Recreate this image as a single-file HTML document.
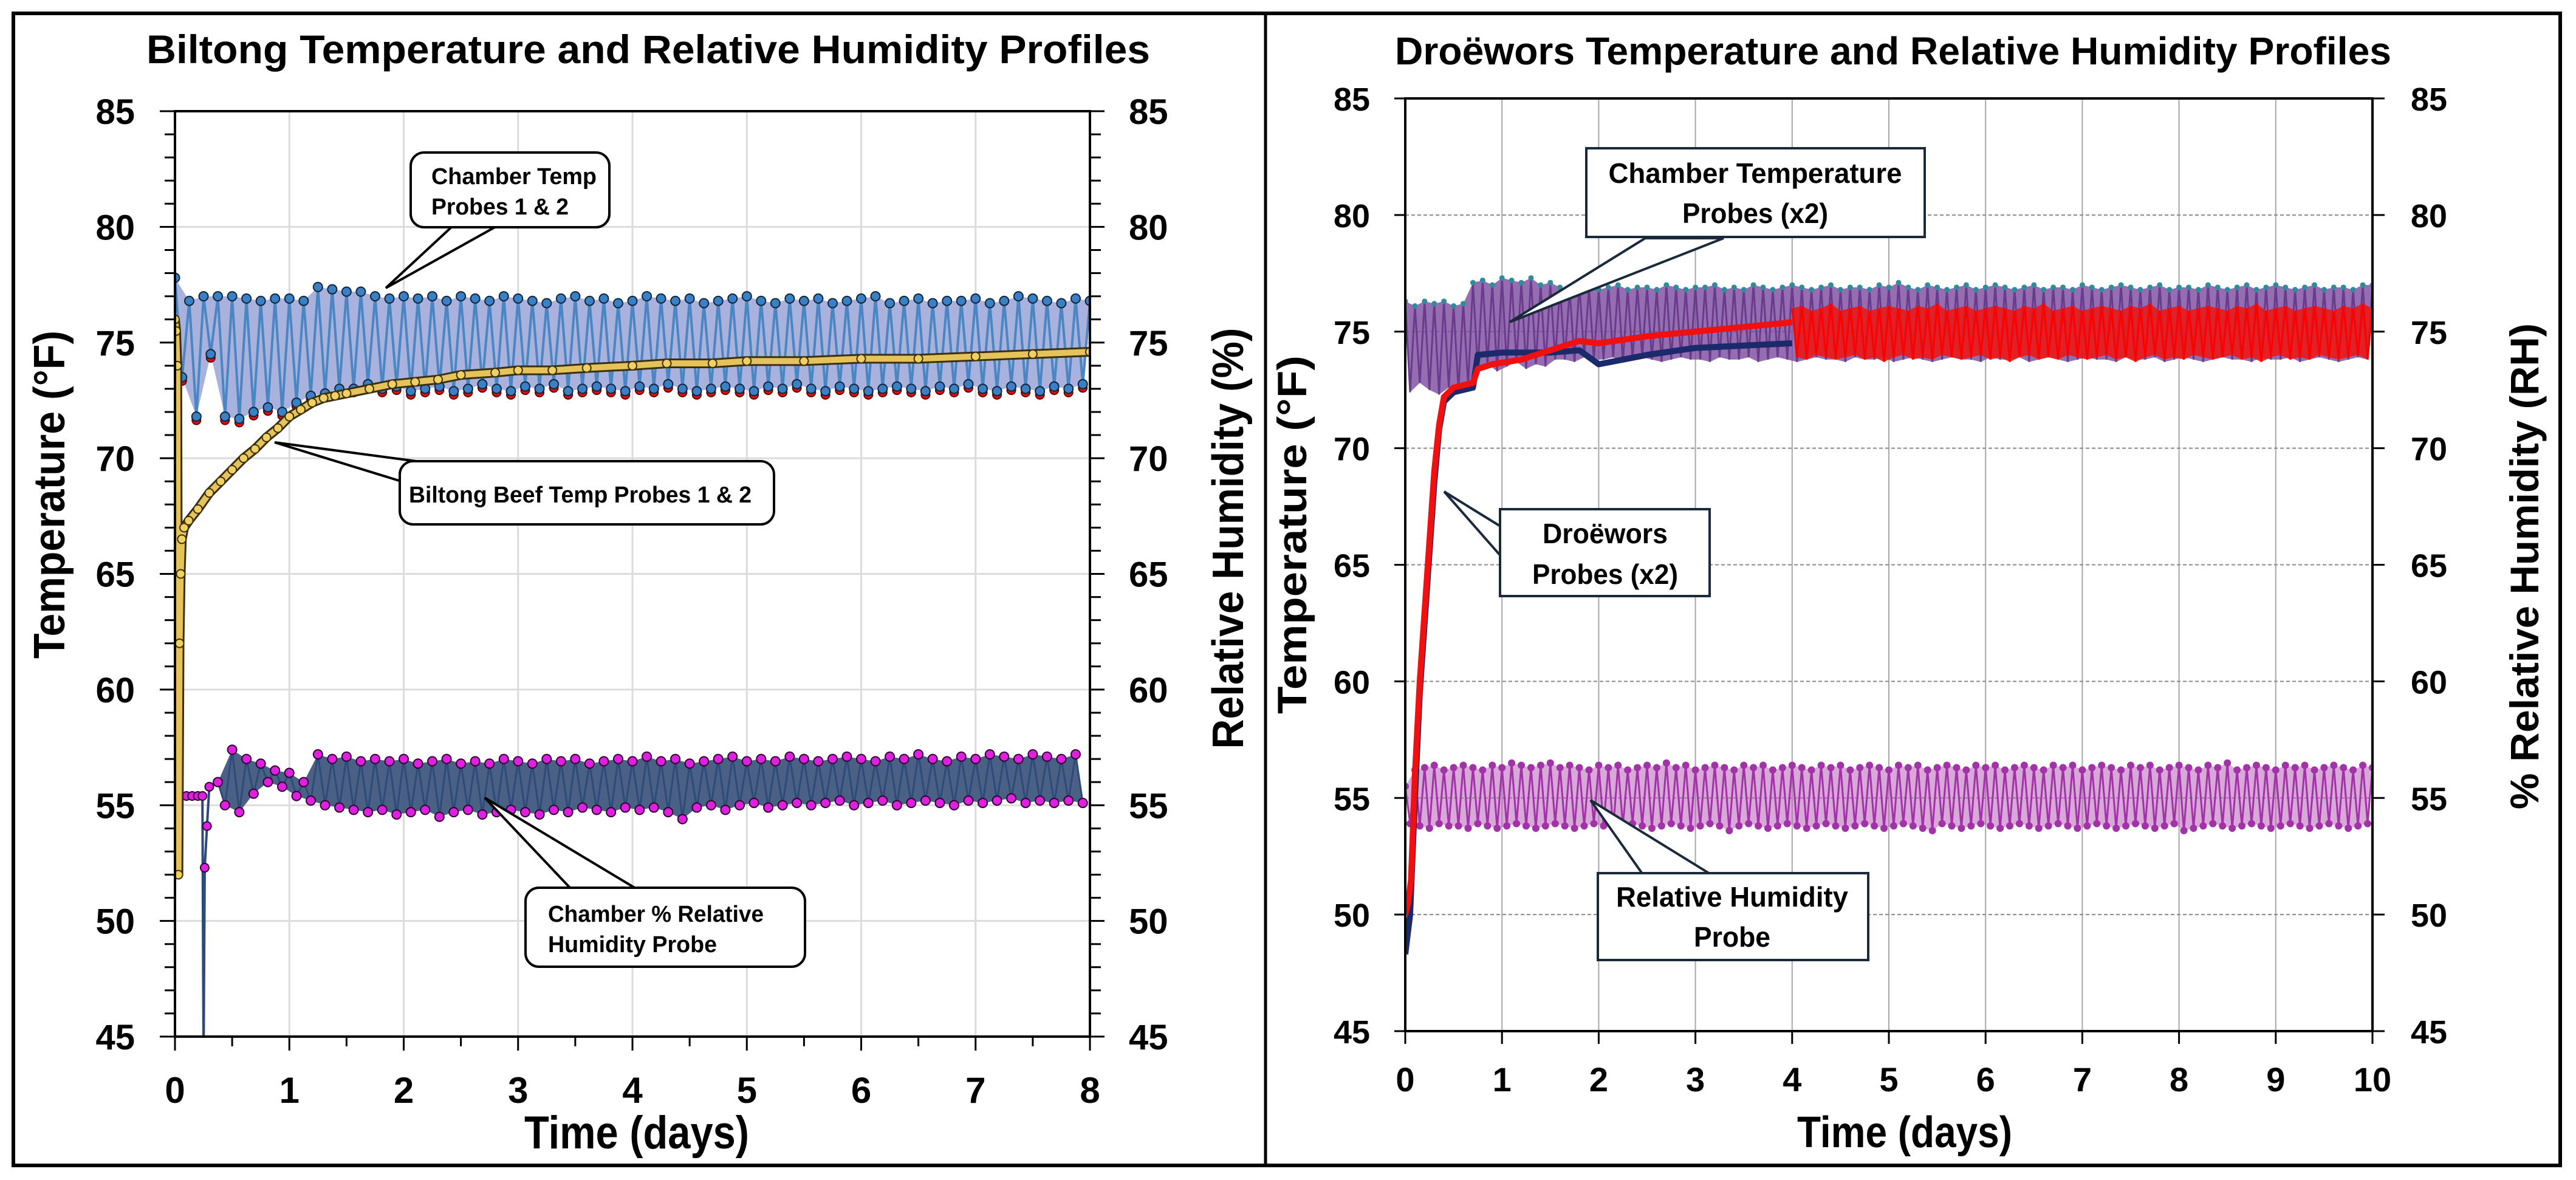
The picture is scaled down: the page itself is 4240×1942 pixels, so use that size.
<!DOCTYPE html>
<html><head><meta charset="utf-8">
<style>
html,body{margin:0;padding:0;background:#fff;}
svg{display:block;}
text{font-family:"Liberation Sans",sans-serif;font-weight:bold;fill:#000;}
</style></head>
<body>
<svg id="fig" width="4240" height="1942" viewBox="0 0 4240 1942" xmlns="http://www.w3.org/2000/svg">
<defs>
<clipPath id="clipL"><rect x="288" y="183" width="1506" height="1523"/></clipPath>
<clipPath id="clipR"><rect x="2313" y="162" width="1592" height="1535"/></clipPath>
</defs>
<rect x="0" y="0" width="4240" height="1942" fill="#fff"/>
<rect x="22" y="22" width="4192" height="1896" fill="none" stroke="#000" stroke-width="6"/>
<line x1="2083" y1="22" x2="2083" y2="1918" stroke="#000" stroke-width="5"/>
<g id="left"></g>
<g id="right"></g>
</svg>
<script>
// ---------- LEFT CHART DATA (Biltong) ----------
const leftXTicks = [0,1,2,3,4,5,6,7,8];
const leftYTicks = [45,50,55,60,65,70,75,80,85];
const chamberHiStart = 0, chamberLoStart = 0.0625, chamberStep = 0.125;
const chamberHi = [77.8,76.8,77.0,77.0,77.0,76.9,76.8,76.9,76.9,76.8,77.4,77.3,77.2,77.2,77.0,76.9,77.0,76.9,77.0,76.8,77.0,76.9,76.8,77.0,76.9,76.8,76.7,76.9,77.0,76.8,76.9,76.7,76.8,77.0,76.9,76.8,76.9,76.7,76.8,76.9,77.0,76.8,76.7,76.9,76.8,76.9,76.7,76.8,76.9,77.0,76.7,76.8,76.9,76.7,76.8,76.8,76.9,76.7,76.8,77.0,76.9,76.8,76.7,76.9,76.8];
const chamberLo = [73.5,71.8,74.5,71.8,71.7,72.0,72.2,72.0,72.4,72.7,72.8,73.0,73.0,73.2,73.0,73.1,72.9,73.0,73.1,72.9,73.0,73.2,73.0,72.9,73.1,73.0,73.2,72.9,73.0,73.1,73.0,72.9,73.1,73.0,73.2,73.0,72.9,73.0,73.1,73.0,72.9,73.1,73.0,73.2,73.0,72.9,73.1,73.0,72.9,73.0,73.1,73.0,72.9,73.1,73.0,73.2,73.0,72.9,73.1,73.0,72.9,73.1,73.0,73.2];
const beefT = [0,0.01,0.02,0.03,0.04,0.05,0.06,0.08,0.12,0.2,0.3,0.4,0.5,0.6,0.7,0.8,0.9,1.0,1.1,1.2,1.3,1.4,1.5,1.7,1.9,2.1,2.3,2.5,2.8,3.0,3.3,3.6,4.0,4.3,4.7,5.0,5.5,6.0,6.5,7.0,7.5,8.0];
const beefV = [76,75.5,74,52,62,65,66.5,67,67.3,67.8,68.5,69,69.5,70,70.4,70.9,71.3,71.8,72.1,72.4,72.6,72.7,72.8,73.0,73.2,73.3,73.4,73.6,73.7,73.8,73.8,73.9,74.0,74.1,74.1,74.2,74.2,74.3,74.3,74.4,74.5,74.6];
const rhStartT = [0,0.05,0.1,0.15,0.2,0.24,0.25,0.26,0.28,0.3];
const rhStartV = [55.4,55.4,55.4,55.4,55.4,55.4,44,52.3,54.1,55.8];
const rhHiStart = 0.375, rhLoStart = 0.4375, rhStep = 0.125;
const rhHi = [56.0,57.4,57.0,56.8,56.5,56.4,56.0,57.2,57.0,57.1,56.9,57.0,56.9,57.0,56.8,56.9,57.0,56.8,56.9,56.8,57.0,56.9,56.8,57.0,56.9,57.0,56.8,56.9,57.0,56.9,57.1,56.9,57.0,56.8,56.9,57.0,57.1,56.9,57.0,56.9,57.1,57.0,56.9,57.0,57.1,57.0,56.9,57.1,57.0,57.2,57.0,56.9,57.1,57.0,57.2,57.1,57.0,57.2,57.1,57.0,57.2];
const rhLo = [55.0,54.7,55.5,56.0,55.8,55.4,55.2,55.0,54.9,54.8,54.7,54.8,54.6,54.7,54.8,54.5,54.7,54.8,54.6,54.7,54.8,54.7,54.6,54.8,54.7,54.9,54.8,54.7,54.9,54.8,54.9,54.7,54.4,54.9,55.0,54.8,55.0,55.1,54.9,55.0,55.1,55.0,55.1,55.2,55.0,55.1,55.2,55.0,55.1,55.2,55.1,55.0,55.2,55.1,55.2,55.3,55.1,55.2,55.1,55.2,55.1];

// ---------- RIGHT CHART DATA (Droewors) ----------
const rightXTicks = [0,1,2,3,4,5,6,7,8,9,10];
const rightYTicks = [45,50,55,60,65,70,75,80,85];
const rcHiStart = 0, rcLoStart = 0.05, rcStep = 0.1;
const rcHi = [76.3,76.1,76.3,76.2,76.3,76.1,76.2,77.1,77.2,77.0,77.3,77.2,77.1,77.3,77.0,77.1,76.9,76.8,77.0,76.9,76.8,76.9,77.0,76.8,76.9,76.9,76.8,77.0,76.9,76.8,76.9,76.9,77.0,76.8,76.9,76.8,77.0,76.9,76.8,76.9,77.0,76.9,76.8,76.9,77.0,76.8,76.9,76.9,76.8,77.0,76.9,77.1,76.9,76.8,77.0,76.9,76.8,76.9,77.0,76.8,76.9,77.0,76.9,76.8,76.9,77.0,76.8,76.9,76.9,76.8,77.0,76.9,76.8,76.9,77.0,76.9,76.8,76.9,77.0,76.8,76.9,76.9,76.8,77.0,76.9,76.8,76.9,77.0,76.8,76.9,77.0,76.9,76.8,76.9,77.0,76.8,76.9,76.9,76.8,77.0,77.0];
const rcLo = [72.4,72.8,72.5,72.3,72.6,72.5,72.7,73.4,73.6,73.3,73.5,73.7,73.4,73.6,73.5,73.8,73.8,73.7,73.9,73.8,73.8,73.9,73.7,73.8,73.9,73.8,73.7,73.8,73.9,73.8,73.8,73.7,73.9,73.8,73.8,73.9,73.7,73.8,73.9,73.8,73.7,73.8,73.9,73.8,73.8,73.7,73.9,73.8,73.8,73.9,73.7,73.8,73.9,73.8,73.7,73.8,73.9,73.8,73.8,73.7,73.9,73.8,73.8,73.9,73.7,73.8,73.9,73.8,73.7,73.8,73.9,73.8,73.8,73.7,73.9,73.8,73.8,73.9,73.7,73.8,73.9,73.8,73.7,73.8,73.9,73.8,73.8,73.7,73.9,73.8,73.8,73.9,73.7,73.8,73.9,73.8,73.7,73.8,73.9,73.8];
const redT = [0,0.03,0.06,0.1,0.15,0.2,0.25,0.3,0.35,0.4,0.5,0.6,0.7,0.75,0.9,1.2,1.5,1.8,2.0,2.5,3.0,3.5,4.0];
const redV = [50,50.5,51.5,56,60,63,66,69,71,72.2,72.6,72.7,72.8,73.4,73.6,73.8,74.2,74.6,74.5,74.8,75.0,75.2,75.4];
const navyT = [0,0.05,0.1,0.15,0.2,0.25,0.3,0.35,0.4,0.5,0.7,0.75,1.0,1.5,1.8,2.0,2.5,3.0,3.5,4.0];
const navyV = [48.3,50,55,59.5,62.5,65.5,68.5,70.8,72,72.4,72.6,74,74.1,74.1,74.2,73.6,74,74.3,74.4,74.5];
const redHiStart = 4, redLoStart = 4.05, redStep = 0.1;
const redHi = [76.0,76.1,75.9,76.0,76.2,75.9,76.0,76.1,75.9,76.0,76.1,76.0,75.9,76.1,76.0,76.2,75.9,76.0,76.1,75.9,76.0,76.1,76.0,75.9,76.1,76.0,76.2,75.9,76.0,76.1,75.9,76.0,76.1,76.0,75.9,76.1,76.0,76.2,75.9,76.0,76.1,75.9,76.0,76.1,76.0,75.9,76.1,76.0,76.2,75.9,76.0,76.1,75.9,76.0,76.1,76.0,75.9,76.1,76.0,76.2,76.0];
const redLo = [73.9,73.8,74.0,73.9,73.8,73.9,74.0,73.8,73.9,73.7,73.9,74.0,73.8,73.9,73.8,74.0,73.9,73.8,73.9,74.0,73.8,73.9,73.7,73.9,74.0,73.8,73.9,73.8,74.0,73.9,73.8,73.9,74.0,73.8,73.9,73.7,73.9,74.0,73.8,73.9,73.8,74.0,73.9,73.8,73.9,74.0,73.8,73.9,73.7,73.9,74.0,73.8,73.9,73.8,74.0,73.9,73.8,73.9,74.0,73.8];
const rrHiStart = 0, rrLoStart = 0.05, rrStep = 0.1;
const rrHi = [55.5,56.2,56.3,56.4,56.2,56.3,56.4,56.3,56.2,56.4,56.3,56.5,56.4,56.3,56.4,56.5,56.3,56.4,56.3,56.2,56.4,56.3,56.4,56.2,56.3,56.4,56.3,56.5,56.3,56.4,56.2,56.3,56.4,56.3,56.2,56.4,56.3,56.4,56.2,56.3,56.4,56.3,56.2,56.4,56.3,56.4,56.2,56.3,56.4,56.3,56.2,56.4,56.3,56.4,56.2,56.3,56.4,56.3,56.2,56.4,56.3,56.4,56.2,56.3,56.4,56.3,56.2,56.4,56.3,56.4,56.2,56.3,56.4,56.3,56.2,56.4,56.3,56.4,56.2,56.3,56.4,56.3,56.2,56.4,56.3,56.5,56.2,56.3,56.4,56.3,56.2,56.4,56.3,56.4,56.2,56.3,56.4,56.3,56.2,56.4,56.3];
const rrLo = [53.9,53.8,53.7,53.9,53.8,53.8,53.7,53.9,53.8,53.7,53.8,53.9,53.8,53.7,53.8,53.9,53.8,53.7,53.8,53.9,53.8,53.7,53.8,53.9,53.8,53.7,53.8,53.9,53.8,53.7,53.8,53.9,53.8,53.6,53.8,53.9,53.8,53.7,53.8,53.9,53.8,53.7,53.8,53.9,53.8,53.7,53.8,53.9,53.8,53.7,53.8,53.9,53.8,53.7,53.6,53.9,53.8,53.7,53.8,53.9,53.8,53.7,53.8,53.9,53.8,53.7,53.8,53.9,53.8,53.7,53.8,53.9,53.8,53.7,53.8,53.9,53.8,53.7,53.8,53.9,53.6,53.7,53.8,53.9,53.8,53.7,53.8,53.9,53.8,53.7,53.8,53.9,53.8,53.7,53.8,53.9,53.8,53.7,53.8,53.9];

const NS = 'http://www.w3.org/2000/svg';
function mk(parent, tag, attrs, txt) {
  const e = document.createElementNS(NS, tag);
  for (const k in attrs) e.setAttribute(k, attrs[k]);
  if (txt !== undefined) e.textContent = txt;
  parent.appendChild(e);
  return e;
}
const xL = d => 288 + d * 188.25;
const yL = v => 1706 - (v - 45) * 1523 / 40;
const xR = d => 2313 + d * 159.2;
const yR = v => 1697 - (v - 45) * 1535 / 40;

function bandSeries(g, hi, hiStart, lo, loStart, step, sx, sy, fill, fillOp, stroke, sw, name) {
  const hp = hi.map((v, i) => [sx(hiStart + i * step), sy(v)]);
  const lp = lo.map((v, i) => [sx(loStart + i * step), sy(v)]);
  const poly = hp.concat(lp.slice().reverse()).map(p => p.join(',')).join(' ');
  const f = mk(g, 'polygon', {points: poly, fill: fill, 'fill-opacity': fillOp, stroke: 'none'});
  
  
  const z = [];
  for (let i = 0; i < Math.max(hp.length, lp.length); i++) {
    if (hp[i]) z.push(hp[i]);
    if (lp[i]) z.push(lp[i]);
  }
  const l = mk(g, 'polyline', {points: z.map(p => p.join(',')).join(' '), fill: 'none', stroke: stroke, 'stroke-width': sw});
  
  
  return {hp, lp};
}
function dots(g, pts, r, fill, stroke, name) {
  pts.forEach(p => {
    const c = mk(g, 'circle', {cx: p[0], cy: p[1], r: r, fill: fill, stroke: stroke, 'stroke-width': 2});
    
    
  });
}
function lineSeries(g, T, V, sx, sy, stroke, sw, name) {
  const l = mk(g, 'polyline', {points: T.map((t, i) => sx(t) + ',' + sy(V[i])).join(' '), fill: 'none', stroke: stroke, 'stroke-width': sw, 'stroke-linejoin': 'round'});
  
  
  return l;
}
function txt(g, x, y, s, size, anchor, name, extra) {
  const t = mk(g, 'text', Object.assign({x: x, y: y, 'font-size': size, 'text-anchor': anchor}, extra || {}), s);
  
  
  return t;
}

// ================= LEFT =================
(function () {
  const g = document.getElementById('left');
  leftXTicks.forEach(d => { if (d > 0 && d < 8) { const l = mk(g, 'line', {x1: xL(d), y1: 183, x2: xL(d), y2: 1706, stroke: '#dcdcdc', 'stroke-width': 3});
      } });
  leftYTicks.forEach(v => { if (v > 45 && v < 85) { const l = mk(g, 'line', {x1: 288, y1: yL(v), x2: 1794, y2: yL(v), stroke: '#dcdcdc', 'stroke-width': 3});
      } });
  const pg = mk(g, 'g', {'clip-path': 'url(#clipL)'});
   
  const ch = bandSeries(pg, chamberHi, chamberHiStart, chamberLo, chamberLoStart, chamberStep, xL, yL, '#a9b2dc', 1, '#4a86c4', 4, 'chamber-temp');
  dots(pg, ch.lp.map(p => [p[0], p[1] + 6]), 7, '#e01010', '#600', 'chamber-temp-probe2-point');
  dots(pg, ch.hp, 7.5, '#3a80c4', '#10243c', 'chamber-temp-point');
  dots(pg, ch.lp, 7.5, '#3a80c4', '#10243c', 'chamber-temp-point');
  lineSeries(pg, rhStartT, rhStartV, xL, yL, '#2e4a78', 4, 'rh-start-line');
  dots(pg, rhStartT.map((t, i) => [xL(t), yL(rhStartV[i])]), 7, '#e020e0', '#300030', 'rh-point');
  const rh = bandSeries(pg, rhHi, rhHiStart, rhLo, rhLoStart, rhStep, xL, yL, '#40577e', 0.95, '#2e4a78', 3, 'rh');
  dots(pg, rh.hp, 7.5, '#e020e0', '#300030', 'rh-point');
  dots(pg, rh.lp, 7.5, '#e020e0', '#300030', 'rh-point');
  lineSeries(pg, beefT, beefV, xL, yL, '#3a3010', 16, 'beef-temp-outline');
  lineSeries(pg, beefT, beefV, xL, yL, '#e6c35a', 10, 'beef-temp-line');
  dots(pg, beefT.map((t, i) => [xL(t), yL(beefV[i])]), 7, '#f0d060', '#3a3010', 'beef-temp-point');
  const ax = mk(g, 'rect', {x: 288, y: 183, width: 1506, height: 1523, fill: 'none', stroke: '#000', 'stroke-width': 4});
   
  for (let v = 45; v <= 85; v++) {
    const major = v % 5 === 0;
    const a = mk(g, 'line', {x1: major ? 263 : 271, y1: yL(v), x2: 288, y2: yL(v), stroke: '#000', 'stroke-width': 3});
     
    const b = mk(g, 'line', {x1: 1794, y1: yL(v), x2: major ? 1818 : 1812, y2: yL(v), stroke: '#000', 'stroke-width': 3});
     
  }
  for (let d = 0; d <= 8; d += 0.5) {
    const major = d % 1 === 0;
    const a = mk(g, 'line', {x1: xL(d), y1: 1706, x2: xL(d), y2: major ? 1729 : 1722, stroke: '#000', 'stroke-width': 3});
     
  }
  leftYTicks.forEach(v => {
    txt(g, 222, yL(v) + 21, String(v), 58, 'end', 'y-tick-label');
    txt(g, 1858, yL(v) + 21, String(v), 58, 'start', 'y2-tick-label');
  });
  leftXTicks.forEach(d => txt(g, xL(d), 1815, String(d), 60, 'middle', 'x-tick-label'));
  txt(g, 1067, 104, 'Biltong Temperature and Relative Humidity Profiles', 66, 'middle', 'chart-title', {textLength: 1652, lengthAdjust: 'spacingAndGlyphs'});
  txt(g, 1048, 1890, 'Time (days)', 76, 'middle', 'x-axis-title', {textLength: 370, lengthAdjust: 'spacingAndGlyphs'});
  txt(g, 0, 0, 'Temperature (°F)', 72, 'middle', 'y-axis-title', {transform: 'translate(106,814) rotate(-90)', textLength: 540, lengthAdjust: 'spacingAndGlyphs'});
  txt(g, 0, 0, 'Relative Humidity (%)', 72, 'middle', 'y2-axis-title', {transform: 'translate(2046,886) rotate(-90)', textLength: 693, lengthAdjust: 'spacingAndGlyphs'});
  function callout(pts, box, rx, lines, name) {
    const cg = mk(g, 'g', {});
     
    mk(cg, 'polygon', {points: pts, fill: '#fff', stroke: '#000', 'stroke-width': 4, 'stroke-linejoin': 'miter'});
    mk(cg, 'rect', {x: box[0], y: box[1], width: box[2], height: box[3], rx: rx, fill: '#fff', stroke: '#000', 'stroke-width': 4});
    lines.forEach(L => { mk(cg, 'text', {x: L[0], y: L[1], 'font-size': L[3], 'text-anchor': 'start', textLength: L[4], lengthAdjust: 'spacingAndGlyphs'}, L[2]); });
  }
  callout('745,372 635,474 818,372', [676, 251, 327, 123], 22, [[710, 303, 'Chamber Temp', 38, 272], [710, 353, 'Probes 1 & 2', 38, 226]], 'chamber-temp-callout');
  callout('660,792 452,728 700,761', [658, 759, 616, 104], 22, [[673, 827, 'Biltong Beef Temp Probes 1 & 2', 38, 564]], 'beef-temp-callout');
  callout('940,1463 798,1313 1048,1463', [865, 1461, 460, 130], 22, [[902, 1517, 'Chamber % Relative', 38, 355], [902, 1567, 'Humidity Probe', 38, 278]], 'rh-callout');
})();

// ================= RIGHT =================
(function () {
  const g = document.getElementById('right');
  rightXTicks.forEach(d => { if (d > 0 && d < 10) { const l = mk(g, 'line', {x1: xR(d), y1: 162, x2: xR(d), y2: 1697, stroke: '#a8a8a8', 'stroke-width': 2});
      } });
  rightYTicks.forEach(v => { if (v > 45 && v < 85) { const l = mk(g, 'line', {x1: 2313, y1: yR(v), x2: 3905, y2: yR(v), stroke: '#8a8a8a', 'stroke-width': 2, 'stroke-dasharray': '6,4'});
      } });
  const pg = mk(g, 'g', {'clip-path': 'url(#clipR)'});
   
  const rr = bandSeries(pg, rrHi, rrHiStart, rrLo, rrLoStart, rrStep, xR, yR, '#b860b8', 0.55, '#a232a8', 3, 'rh');
  dots(pg, rr.hp, 5, '#a232a8', '#a232a8', 'rh-point');
  dots(pg, rr.lp, 5, '#a232a8', '#a232a8', 'rh-point');
  const rc = bandSeries(pg, rcHi, rcHiStart, rcLo, rcLoStart, rcStep, xR, yR, '#7a4a9e', 0.8, '#6a3a8c', 3, 'chamber-temp');
  dots(pg, rc.hp, 3.5, '#2f8c9a', '#2f8c9a', 'chamber-temp-point');
  lineSeries(pg, navyT, navyV, xR, yR, '#1a2a6a', 10, 'droewors-probe1-line');
  bandSeries(pg, redHi, redHiStart, redLo, redLoStart, redStep, xR, yR, '#e81818', 0.9, '#ff0000', 3, 'droewors-probe2');
  lineSeries(pg, redT, redV, xR, yR, '#f01010', 10, 'droewors-probe2-line');
  const ax = mk(g, 'rect', {x: 2313, y: 162, width: 1592, height: 1535, fill: 'none', stroke: '#000', 'stroke-width': 4});
   
  rightYTicks.forEach(v => {
    const a = mk(g, 'line', {x1: 2295, y1: yR(v), x2: 2313, y2: yR(v), stroke: '#000', 'stroke-width': 3});
     
    const b = mk(g, 'line', {x1: 3905, y1: yR(v), x2: 3925, y2: yR(v), stroke: '#000', 'stroke-width': 3});
     
    txt(g, 2255, yR(v) + 20, String(v), 54, 'end', 'y-tick-label', {textLength: 60, lengthAdjust: 'spacingAndGlyphs'});
    txt(g, 3968, yR(v) + 20, String(v), 54, 'start', 'y2-tick-label', {textLength: 60, lengthAdjust: 'spacingAndGlyphs'});
  });
  rightXTicks.forEach(d => {
    const a = mk(g, 'line', {x1: xR(d), y1: 1697, x2: xR(d), y2: 1718, stroke: '#000', 'stroke-width': 3});
     
    txt(g, xR(d), 1796, String(d), 56, 'middle', 'x-tick-label');
  });
  txt(g, 3116, 106, 'Droëwors Temperature and Relative Humidity Profiles', 64, 'middle', 'chart-title', {textLength: 1640, lengthAdjust: 'spacingAndGlyphs'});
  txt(g, 3135, 1888, 'Time (days)', 72, 'middle', 'x-axis-title', {textLength: 354, lengthAdjust: 'spacingAndGlyphs'});
  txt(g, 0, 0, 'Temperature (°F)', 68, 'middle', 'y-axis-title', {transform: 'translate(2150,880) rotate(-90)', textLength: 590, lengthAdjust: 'spacingAndGlyphs'});
  txt(g, 0, 0, '% Relative Humidity (RH)', 66, 'middle', 'y2-axis-title', {transform: 'translate(4178,932) rotate(-90)', textLength: 800, lengthAdjust: 'spacingAndGlyphs'});
  function callout(pts, box, lines, name) {
    const cg = mk(g, 'g', {});
     
    mk(cg, 'polygon', {points: pts, fill: '#fff', stroke: '#1a2a3a', 'stroke-width': 4});
    mk(cg, 'rect', {x: box[0], y: box[1], width: box[2], height: box[3], fill: '#fff', stroke: '#1a2a3a', 'stroke-width': 4});
    lines.forEach(L => mk(cg, 'text', {x: L[0], y: L[1], 'font-size': 46, 'text-anchor': 'middle', textLength: L[3], lengthAdjust: 'spacingAndGlyphs'}, L[2]));
  }
  callout('2708,392 2485,530 2837,392', [2611, 244, 557, 146], [[2889, 301, 'Chamber Temperature', 483], [2889, 367, 'Probes (x2)', 240]], 'chamber-temp-callout');
  callout('2471,867 2377,809 2471,916', [2469, 838, 345, 143], [[2642, 894, 'Droëwors', 206], [2642, 961, 'Probes (x2)', 240]], 'droewors-callout');
  callout('2704,1439 2618,1317 2816,1439', [2630, 1437, 445, 143], [[2851, 1492, 'Relative Humidity', 382], [2851, 1558, 'Probe', 126]], 'rh-callout');
})();
</script>
</body></html>
